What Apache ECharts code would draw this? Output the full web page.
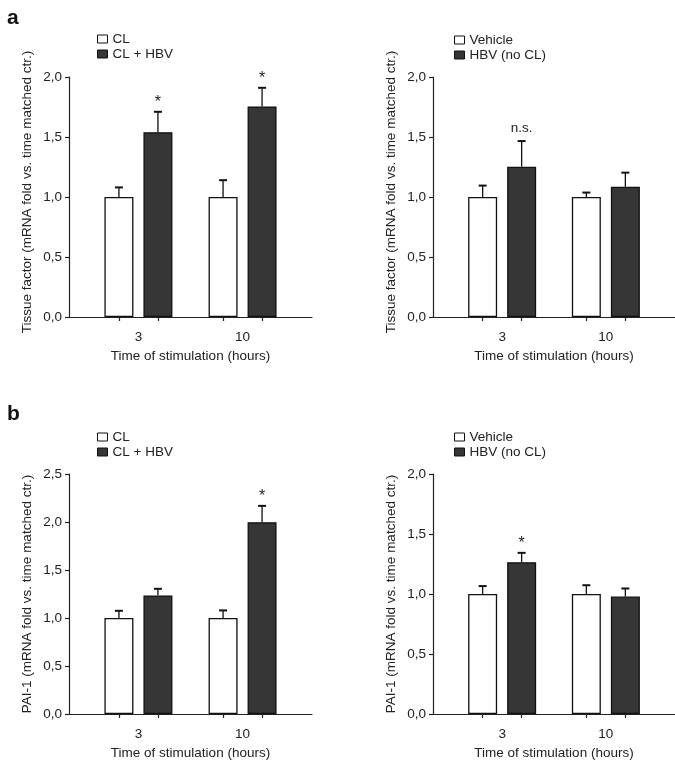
<!DOCTYPE html>
<html><head><meta charset="utf-8">
<script src="https://cdn.jsdelivr.net/npm/echarts@6/dist/echarts.min.js"></script>
<style>html,body{margin:0;padding:0;background:#fff}#c{width:675px;height:763px}</style>
</head><body><div id="c"></div>
<script>
// ---------------- data ----------------
const timeLabels = ['3', '10'];            // time of stimulation (hours)
const xAxisTitle = 'Time of stimulation (hours)';
const yTitleTF = 'Tissue factor (mRNA fold vs. time matched ctr.)';
const yTitlePAI = 'PAI-1 (mRNA fold vs. time matched ctr.)';

// panel a, left
const tfCL = [1.0, 1.0];
const tfCLErr = [0.08, 0.14];
const tfCLHBV = [1.54, 1.755];
const tfCLHBVErr = [0.17, 0.155];
const tfCLHBVSig = ['*', '*'];
// panel a, right
const tfVeh = [1.0, 1.0];
const tfVehErr = [0.095, 0.037];
const tfHBV = [1.253, 1.085];
const tfHBVErr = [0.213, 0.118];
const tfHBVSig = ['n.s.', ''];
// panel b, left
const paiCL = [1.0, 1.0];
const paiCLErr = [0.075, 0.079];
const paiCLHBV = [1.235, 1.998];
const paiCLHBVErr = [0.069, 0.17];
const paiCLHBVSig = ['', '*'];
// panel b, right
const paiVeh = [1.0, 1.0];
const paiVehErr = [0.066, 0.073];
const paiHBV = [1.265, 0.979];
const paiHBVErr = [0.078, 0.067];
const paiHBVSig = ['*', ''];

const yMaxes = [2.0, 2.0, 2.5, 2.0];

// ---------------- layout / style ----------------
const TEXT = '#222';
const DARK = '#363636';
const FONT = 'Liberation Sans, Arial, Helvetica, sans-serif';
const FS = 13.5;
const BAR_W = 29, GAP = 10, CAP = 8;
const X_MIN = 0, X_MAX = 7;
const catPos = [2, 5];          // where the two time points sit on the x scale
const GW = 243, GH = 240;
const grids = [
  {left: 69, top: 77}, {left: 433, top: 77},
  {left: 69, top: 474}, {left: 433, top: 474}
];
const legendPos = [
  {left: 92, top: 27}, {left: 449, top: 28},
  {left: 92, top: 425}, {left: 449, top: 425}
];
const pxPerUnit = GW / (X_MAX - X_MIN);
const halfOff = (BAR_W + GAP) / 2 / pxPerUnit;
const tickVals = [];
catPos.forEach(p => { tickVals.push(p - halfOff, p + halfOff); });

const panels = [
  {names: ['CL', 'CL + HBV'], a: tfCL, ae: tfCLErr, b: tfCLHBV, be: tfCLHBVErr, sig: tfCLHBVSig, yTitle: yTitleTF, namePad: [0, 0, 0, 10]},
  {names: ['Vehicle', 'HBV (no CL)'], a: tfVeh, ae: tfVehErr, b: tfHBV, be: tfHBVErr, sig: tfHBVSig, yTitle: yTitleTF, namePad: [0, 0, 0, 10]},
  {names: ['CL', 'CL + HBV'], a: paiCL, ae: paiCLErr, b: paiCLHBV, be: paiCLHBVErr, sig: paiCLHBVSig, yTitle: yTitlePAI, namePad: [0, 0, 0, 0]},
  {names: ['Vehicle', 'HBV (no CL)'], a: paiVeh, ae: paiVehErr, b: paiHBV, be: paiHBVErr, sig: paiHBVSig, yTitle: yTitlePAI, namePad: [0, 0, 0, 0]}
];

const option = {
  backgroundColor: '#fff',
  animation: false,
  textStyle: {fontFamily: FONT, color: TEXT},
  title: [
    {text: 'a', left: 2, top: 3, textStyle: {fontSize: 21, fontWeight: 'bold', color: '#111', fontFamily: FONT}},
    {text: 'b', left: 2, top: 399, textStyle: {fontSize: 21, fontWeight: 'bold', color: '#111', fontFamily: FONT}}
  ],
  grid: grids.map(g => ({left: g.left, top: g.top, width: GW, height: GH, containLabel: false})),
  legend: panels.map((p, i) => ({
    data: p.names, orient: 'vertical', left: legendPos[i].left, top: legendPos[i].top,
    itemWidth: 10, itemHeight: 8, itemGap: 1, icon: 'rect', selectedMode: false,
    itemStyle: {borderColor: '#111', borderWidth: 1},
    textStyle: {fontSize: FS, color: TEXT, fontFamily: FONT, lineHeight: 14}
  })),
  xAxis: panels.map((p, i) => ({
    type: 'value', gridIndex: i, min: X_MIN, max: X_MAX,
    splitLine: {show: false},
    axisLine: {show: true, onZero: false, lineStyle: {color: TEXT, width: 1.2}},
    axisTick: {show: true, customValues: tickVals, length: 4, lineStyle: {color: TEXT, width: 1.2}},
    axisLabel: {customValues: catPos, margin: 13, fontSize: FS, color: TEXT, fontFamily: FONT,
      formatter: v => { const k = catPos.findIndex(c => Math.abs(c - v) < 1e-6); return k >= 0 ? timeLabels[k] : ''; }},
    name: xAxisTitle, nameLocation: 'middle', nameGap: 32,
    nameTextStyle: {fontSize: FS, color: TEXT, fontFamily: FONT}
  })),
  yAxis: panels.map((p, i) => ({
    type: 'value', gridIndex: i, min: 0, max: yMaxes[i], interval: 0.5,
    splitLine: {show: false},
    axisLine: {show: true, lineStyle: {color: TEXT, width: 1.2}},
    axisTick: {show: true, length: 4, lineStyle: {color: TEXT, width: 1.2}},
    axisLabel: {margin: 7, fontSize: FS, color: TEXT, fontFamily: FONT,
      formatter: v => v.toFixed(1).replace('.', ',')},
    name: p.yTitle, nameLocation: 'middle', nameGap: 35, nameRotate: 90,
    nameTextStyle: {fontSize: FS, color: TEXT, fontFamily: FONT, padding: p.namePad}
  })),
  series: []
};

panels.forEach((p, i) => {
  option.series.push({
    type: 'bar', name: p.names[0], xAxisIndex: i, yAxisIndex: i,
    barWidth: BAR_W, barGap: (GAP / BAR_W * 100).toFixed(1) + '%',
    itemStyle: {color: '#fff', borderColor: '#111', borderWidth: 1.3},
    data: catPos.map((x, k) => [x, p.a[k]])
  });
  option.series.push({
    type: 'bar', name: p.names[1], xAxisIndex: i, yAxisIndex: i,
    barWidth: BAR_W, barGap: (GAP / BAR_W * 100).toFixed(1) + '%',
    itemStyle: {color: DARK, borderColor: '#111', borderWidth: 1.3},
    data: catPos.map((x, k) => [x, p.b[k]])
  });
  const errData = [], sigs = [];
  catPos.forEach((x, k) => {
    errData.push([x, p.a[k], p.a[k] + p.ae[k], 0]); sigs.push('');
    errData.push([x, p.b[k], p.b[k] + p.be[k], 1]); sigs.push(p.sig[k]);
  });
  option.series.push({
    type: 'custom', xAxisIndex: i, yAxisIndex: i, z: 5, silent: true,
    encode: {x: 0, y: [1, 2]},
    data: errData,
    renderItem: (params, api) => {
      const x = api.value(0), v = api.value(1), e = api.value(2), side = api.value(3);
      const base = api.coord([x, v]);
      const top = api.coord([x, e]);
      const cx = base[0] + (side ? 1 : -1) * (BAR_W + GAP) / 2;
      const children = [
        {type: 'line', shape: {x1: cx, y1: base[1], x2: cx, y2: top[1]}, style: {stroke: '#111', lineWidth: 1.3}},
        {type: 'line', shape: {x1: cx - CAP / 2, y1: top[1], x2: cx + CAP / 2, y2: top[1]}, style: {stroke: '#111', lineWidth: 2}}
      ];
      const s = sigs[params.dataIndex];
      if (s) {
        const star = s === '*';
        children.push({type: 'text', x: cx, y: top[1] - (star ? 9 : 13),
          style: {text: s, fill: TEXT, font: (star ? 16 : FS) + 'px ' + FONT, align: 'center', verticalAlign: 'middle'}});
      }
      return {type: 'group', children};
    }
  });
});

const chart = echarts.init(document.getElementById('c'), null, {renderer: 'canvas'});
chart.setOption(option);
</script>
</body></html>
